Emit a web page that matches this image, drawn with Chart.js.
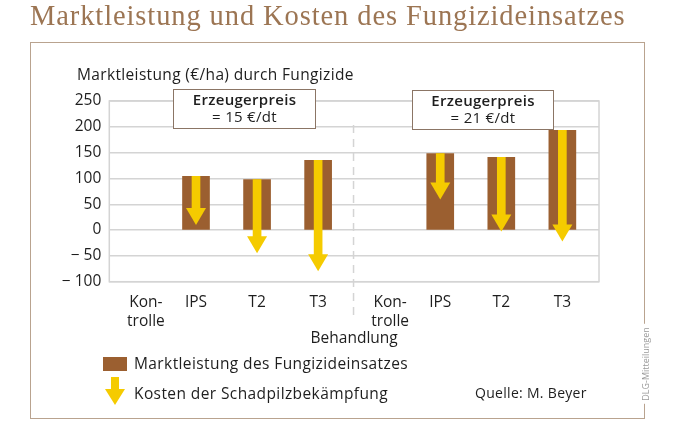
<!DOCTYPE html>
<html lang="de">
<head>
<meta charset="utf-8">
<title>Marktleistung und Kosten des Fungizideinsatzes</title>
<script src="https://cdn.jsdelivr.net/npm/chart.js@4.4.1/dist/chart.umd.min.js"></script>
<style>
  html, body { margin: 0; padding: 0; background: #fff; }
  body { width: 679px; height: 431px; position: relative; overflow: hidden;
         font-family: "Open Sans", "Noto Sans", sans-serif; color: #1e1e1e; }
  #chart { position: absolute; left: 0; top: 0; }
  .abs { position: absolute; white-space: nowrap; line-height: 1; }
  #titel { left: 30px; top: 0px; font: 28.5px "Liberation Serif", serif; letter-spacing: 0.9px; color: #9c7553; }
  #rahmen { position: absolute; left: 30px; top: 42px; width: 613px; height: 375px;
            border: 1.5px solid #b9a38f; }
  #ytitel { left: 77px; top: 67px; font-size: 15.5px; letter-spacing: 0.35px; }
  .preis { position: absolute; background: #fff; border: 1.5px solid #8b7565;
           text-align: center; font-size: 15px; line-height: 17px; padding-top: 1px; letter-spacing: 0.3px; }
  .preis b { font-weight: 600; }
  .leg { left: 134px; font-size: 15.5px; letter-spacing: 0.4px; }
  #quelle { left: 475px; top: 386px; font-size: 14px; letter-spacing: 0.3px; }
  #dlg { left: 645px; top: 364px; font-size: 9px; color: #9a9a9a; background: #fff;
         transform: translate(-50%, -50%) rotate(-90deg); padding: 0 3px; }
</style>
</head>
<body>
<canvas id="chart" width="679" height="431"></canvas>
<div id="rahmen"></div>
<div class="abs" id="titel">Marktleistung und Kosten des Fungizideinsatzes</div>
<div class="abs" id="ytitel">Marktleistung (€/ha) durch Fungizide</div>
<div class="preis" style="left:173px; top:89px; width:141px; height:37px;"><b>Erzeugerpreis</b><br>= 15 €/dt</div>
<div class="preis" style="left:412px; top:90px; width:140px; height:37px;"><b>Erzeugerpreis</b><br>= 21 €/dt</div>
<svg style="position:absolute; left:103px; top:357px;" width="24" height="14"><rect width="24" height="14" fill="#9b5f30"/></svg>
<svg style="position:absolute; left:105px; top:377px;" width="20" height="28"><polygon points="6,0 14,0 14,12 20,12 10,28 0,12 6,12" fill="#f5cb00"/></svg>
<div class="abs leg" style="top:356px;">Marktleistung des Fungizideinsatzes</div>
<div class="abs leg" style="top:386px;">Kosten der Schadpilzbekämpfung</div>
<div class="abs" id="quelle">Quelle: M. Beyer</div>
<div class="abs" id="dlg">DLG-Mitteilungen</div>

<script>
(function () {
    'use strict';

    // -------- Daten --------
    const categories = ['Kontrolle', 'IPS', 'T2', 'T3', 'Kontrolle', 'IPS', 'T2', 'T3'];
    // Marktleistung (€/ha) je Behandlung, links 15 €/dt, rechts 21 €/dt
    const marktleistung = [null, 104, 98, 135, null, 148, 141, 193];
    // Kosten der Schadpilzbekämpfung (€/ha), Pfeillänge
    const kosten = [null, 94, 143, 215, null, 89, 144, 215];
    const yTicks = [250, 200, 150, 100, 50, 0, -50, -100];

    const BRAUN = '#9b5f30';
    const GELB = '#f5cb00';
    const GRID = '#d4d4d4';
    const HEAD_H = 17, HEAD_W = 20;
    const FONT = { family: 'Open Sans', size: 15.5 };

    // Kontrolle-Beschriftung sitzt etwas rechts von der Kategorie
    const tickShift = c => (c === 'Kontrolle' ? 0.18 : 0);

    const fmt = v => (v < 0 ? '\u2212 ' + Math.abs(v) : String(v));

    const barsData = [];
    const shaftData = [];
    categories.forEach((c, i) => {
        if (marktleistung[i] == null) return;
        barsData.push({ x: i, y: marktleistung[i] });
        shaftData.push({ x: i, y: [marktleistung[i], marktleistung[i] - kosten[i]] });
    });

    // Pfeilspitzen, Trennlinie, Rahmen des Plotbereichs
    const arrowPlugin = {
        id: 'arrows',
        beforeDatasetsDraw(chart) {
            // Schaft endet an der Basis der Pfeilspitze
            chart.getDatasetMeta(0).data.forEach(el => { el.base = el.base - HEAD_H + 1; });
        },
        afterDatasetsDraw(chart) {
            const { ctx, scales: { x, y } } = chart;
            ctx.save();
            ctx.fillStyle = GELB;
            shaftData.forEach(d => {
                const px = x.getPixelForValue(d.x);
                const tip = y.getPixelForValue(d.y[1]);
                ctx.beginPath();
                ctx.moveTo(px - HEAD_W / 2, tip - HEAD_H);
                ctx.lineTo(px + HEAD_W / 2, tip - HEAD_H);
                ctx.lineTo(px, tip);
                ctx.closePath();
                ctx.fill();
            });
            ctx.restore();
        },
        afterDraw(chart) {
            const { ctx, chartArea: a, scales: { x } } = chart;
            ctx.save();
            ctx.strokeStyle = GRID;
            ctx.lineWidth = 1.5;
            ctx.strokeRect(a.left, a.top, a.right - a.left, a.bottom - a.top);
            const sx = x.getPixelForValue(3.58);
            ctx.setLineDash([8, 6]);
            ctx.beginPath();
            ctx.moveTo(sx, 125);
            ctx.lineTo(sx, 315);
            ctx.stroke();
            ctx.restore();
        }
    };

    new Chart(document.getElementById('chart'), {
        type: 'bar',
        data: {
            datasets: [
                { label: 'Kosten der Schadpilzbekämpfung', data: shaftData, backgroundColor: GELB,
                  barThickness: 8, grouped: false, order: 0 },
                { label: 'Marktleistung des Fungizideinsatzes', data: barsData, backgroundColor: BRAUN,
                  barThickness: 27, grouped: false, order: 1 }
            ]
        },
        options: {
            responsive: false,
            animation: false,
            layout: { padding: { left: 0, top: 101, right: 80, bottom: 83 } },
            plugins: { legend: { display: false }, tooltip: { enabled: false } },
            scales: {
                x: {
                    type: 'linear',
                    offset: false,
                    min: -0.42, max: 7.6,
                    grid: { display: false },
                    border: { display: false },
                    afterBuildTicks(scale) {
                        scale.ticks = categories.map((c, i) => ({ value: i + tickShift(c) }));
                    },
                    afterFit(scale) { scale.height = 66.3; },
                    ticks: {
                        padding: 4,
                        autoSkip: false,
                        maxRotation: 0,
                        color: '#1e1e1e',
                        font: FONT,
                        callback: (v, i) => (categories[i] === 'Kontrolle' ? ['Kon-', 'trolle'] : categories[i])
                    },
                    title: {
                        display: true, text: 'Behandlung', color: '#1e1e1e',
                        font: FONT, padding: { top: 0, bottom: 0 }
                    }
                },
                y: {
                    min: -100, max: 250,
                    afterBuildTicks(scale) { scale.ticks = yTicks.map(v => ({ value: v })); },
                    afterFit(scale) { scale.width = 109.3; },
                    grid: { color: GRID, lineWidth: 1.5, drawTicks: false },
                    border: { display: false },
                    ticks: {
                        padding: 8,
                        color: '#1e1e1e',
                        font: FONT,
                        callback: v => fmt(v)
                    }
                }
            }
        },
        plugins: [arrowPlugin]
    });
})();
</script>
</body>
</html>
